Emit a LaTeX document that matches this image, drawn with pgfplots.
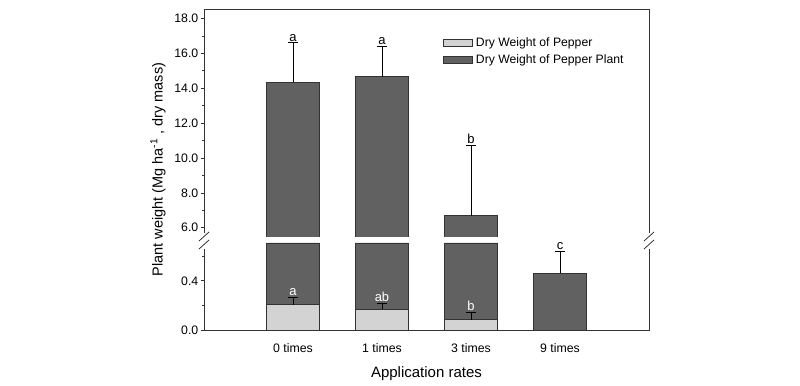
\documentclass[border=0pt]{standalone}
\usepackage{pgfplots}
\pgfplotsset{compat=1.18}
\usepackage{fontspec}
\setmainfont{Liberation Sans}
\definecolor{darkbar}{HTML}{616161}
\definecolor{lightbar}{HTML}{D3D3D3}
\definecolor{framec}{HTML}{333333}
\begin{document}
\begin{tikzpicture}
\useasboundingbox (0bp,0bp) rectangle (800bp,386bp);
\pgfplotsset{
  every axis/.append style={
    scale only axis, width=445bp, xmin=-1, xmax=4,
    axis line style={draw=none},
    tick style={framec, line width=0.7bp},
    tick align=outside, ytick pos=left,
    major tick length=3.5bp, minor tick length=2.2bp,
    yticklabel style={/pgf/number format/fixed, /pgf/number format/fixed zerofill,
      /pgf/number format/precision=1, /pgf/number format/assume math mode=true,
      inner xsep=2bp},
    ticklabel style={font=\fontsize{12.3bp}{14bp}\selectfont},
  },
  barstyle/.style={ybar, bar width=0.6, bar shift=0pt, draw=framec, line width=0.8bp},
  errstyle/.style={error bars/.cd, y dir=plus, y explicit,
      error bar style={black, line width=0.8bp},
      error mark options={rotate=90, mark size=5bp, black, line width=0.8bp}},
  legimg/.style={legend image code/.code={\draw[##1] (0bp,-3.5bp) rectangle (29bp,3.5bp);}},
}
% upper part
\begin{axis}[at={(204bp,149bp)}, anchor=south west, height=228bp,
  ymin=5.47, ymax=18.54, ytick={6,8,...,18}, minor ytick={7,9,...,17},
  xtick=\empty,
  legend cell align=left,
  legend style={draw=none, fill=none, at={(0.537,0.887)}, anchor=north west,
    font=\fontsize{12.2bp}{14bp}\selectfont, inner sep=0pt, row sep=0pt,
    nodes={inner ysep=3bp, inner xsep=3bp}},
]
\addlegendimage{legimg, fill=lightbar, draw=framec, line width=0.8bp}
\addlegendentry{Dry Weight of Pepper}
\addplot[barstyle, fill=darkbar, legimg, errstyle] coordinates {
  (0,14.34) +- (0,2.26)
  (1,14.65) +- (0,1.76)
  (2,6.70) +- (0,4.04)
};
\addlegendentry{Dry Weight of Pepper Plant}
\addplot[draw=none, mark=none, forget plot, nodes near coords, point meta=explicit symbolic,
  nodes near coords style={anchor=south, inner sep=1.5bp, font=\fontsize{13bp}{14bp}\selectfont}]
  coordinates {(0,16.60)[a] (1,16.41)[a] (2,10.74)[b]};
\end{axis}
% lower part
\begin{axis}[at={(204bp,56bp)}, anchor=south west, height=87bp,
  ymin=0, ymax=0.707, ytick={0,0.4}, minor ytick={0.2,0.6},
  xtick={0,1,2,3}, xticklabels={0 times, 1 times, 3 times, 9 times},
  xtick style={draw=none},
  xticklabel style={anchor=base, yshift=-18.7bp},
  xlabel={Application rates},
  xlabel style={at={(axis description cs:0.5,0)}, anchor=center, yshift=-44bp,
    font=\fontsize{15bp}{17bp}\selectfont},
]
\addplot[barstyle, fill=darkbar] coordinates {(0,0.707) (1,0.707) (2,0.707)};
\addplot[barstyle, fill=darkbar, errstyle] coordinates {(3,0.46) +- (0,0.182)};
\addplot[barstyle, fill=lightbar, errstyle] coordinates {
  (0,0.205) +- (0,0.057)
  (1,0.170) +- (0,0.046)
  (2,0.084) +- (0,0.059)
};
\addplot[draw=none, mark=none, nodes near coords, point meta=explicit symbolic,
  nodes near coords style={anchor=south, inner sep=1.5bp, text=white, font=\fontsize{13bp}{14bp}\selectfont}]
  coordinates {(0,0.262)[a] (1,0.216)[ab] (2,0.143)[b]};
\addplot[draw=none, mark=none, nodes near coords, point meta=explicit symbolic,
  nodes near coords style={anchor=south, inner sep=1.5bp, font=\fontsize{13bp}{14bp}\selectfont}]
  coordinates {(3,0.642)[c]};
\end{axis}
% frame with axis break
\draw[framec, line width=0.9bp] (204bp,153bp) -- (204bp,377bp) -- (649bp,377bp) -- (649bp,153bp);
\draw[framec, line width=0.9bp] (204bp,137bp) -- (204bp,56bp) -- (649bp,56bp) -- (649bp,137bp);
\foreach \xx in {204,649}{
  \draw[framec, line width=0.8bp] (\xx bp-5bp,145bp) -- (\xx bp+5bp,154bp);
  \draw[framec, line width=0.8bp] (\xx bp-5bp,137bp) -- (\xx bp+5bp,146bp);
}
\node[rotate=90, font=\fontsize{14.5bp}{17bp}\selectfont] at (158bp,216.5bp)
  {Plant weight (Mg ha\textsuperscript{-1} , dry mass)};
\end{tikzpicture}
\end{document}
